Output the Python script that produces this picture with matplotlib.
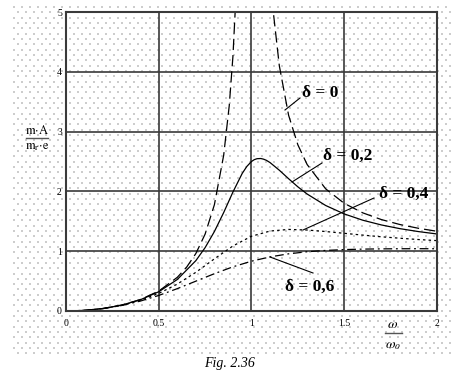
import matplotlib
matplotlib.use("Agg")
import matplotlib.pyplot as plt
import numpy as np
from matplotlib.lines import Line2D

plt.rcParams['mathtext.fontset'] = 'stix'
plt.rcParams['font.family'] = ['Liberation Serif', 'DejaVu Serif']

# ---- data ----
r_d0_left = [0.0, 0.1, 0.2, 0.3, 0.4, 0.5, 0.6, 0.65, 0.7, 0.75, 0.8, 0.85, 0.88, 0.9, 0.92]
v_d0_left = [0.0, 0.010, 0.042, 0.099, 0.190, 0.333, 0.563, 0.732, 0.961, 1.286, 1.778, 2.604, 3.433, 4.263, 5.51]
r_d0_right = [1.10, 1.12, 1.15, 1.2, 1.25, 1.3, 1.4, 1.5, 1.6, 1.7, 1.8, 1.9, 2.0]
v_d0_right = [5.76, 4.93, 4.10, 3.273, 2.778, 2.449, 2.042, 1.800, 1.641, 1.529, 1.446, 1.383, 1.333]

r_d02 = [0.0, 0.1, 0.2, 0.3, 0.4, 0.5, 0.6, 0.7, 0.75, 0.8, 0.85, 0.9, 0.95, 0.975, 1.0, 1.015,
         1.03, 1.05, 1.065, 1.08, 1.1, 1.15, 1.2, 1.25, 1.3, 1.4, 1.5, 1.6, 1.7, 1.8, 1.9, 2.0]
v_d02 = [0.0, 0.010, 0.042, 0.098, 0.187, 0.322, 0.527, 0.842, 1.060, 1.329, 1.646, 1.990, 2.301,
         2.418, 2.500, 2.531, 2.547, 2.550, 2.539, 2.520, 2.482, 2.354, 2.212, 2.076, 1.956,
         1.764, 1.623, 1.518, 1.439, 1.377, 1.328, 1.288]

r_std = [0.0, 0.1, 0.2, 0.3, 0.4, 0.5, 0.6, 0.7, 0.8, 0.9, 1.0, 1.1, 1.2, 1.3, 1.4, 1.5, 1.6,
         1.7, 1.8, 1.9, 2.0]
v_d04 = [0.0, 0.010, 0.041, 0.096, 0.178, 0.294, 0.450, 0.647, 0.872, 1.088, 1.250, 1.337,
         1.364, 1.354, 1.329, 1.299, 1.269, 1.241, 1.217, 1.195, 1.177]
v_d06 = [0.0, 0.010, 0.040, 0.092, 0.165, 0.260, 0.374, 0.499, 0.624, 0.739, 0.833, 0.905,
         0.956, 0.991, 1.013, 1.027, 1.035, 1.039, 1.041, 1.042, 1.041]

x_ticks = [0, 0.5, 1, 1.5, 2]
x_tick_labels = ["0", "0.5", "1", "1.5", "2"]
y_ticks = [0, 1, 2, 3, 4, 5]
y_tick_labels = ["0", "1", "2", "3", "4", "5"]

W, H = 460, 388
fig = plt.figure(figsize=(W / 100, H / 100), dpi=100)
fig.patch.set_facecolor('white')

def fx(px):
    return px / W

def fy(py):
    return 1 - py / H

# dotted background
bg = fig.add_axes([0, 0, 1, 1], zorder=0)
bg.set_xlim(0, W)
bg.set_ylim(H, 0)
bg.axis('off')
xs, ys = [], []
row = 0
yy = 6.0
while yy < 353:
    off = 0 if row % 2 == 0 else 4
    xx = 14 + off
    while xx < 454:
        xs.append(int(xx) + 0.5)
        ys.append(int(round(yy)) + 0.5)
        xx += 8
    yy += 5.33
    row += 1
bg.scatter(xs, ys, s=0.7, marker='s', c='#cdcdcd', linewidths=0)

ax = fig.add_axes([fx(66), fy(311), fx(437) - fx(66), fy(12) - fy(311)], zorder=2)
ax.set_facecolor('none')
ax.set_xlim(0, 2)
ax.set_ylim(0, 5)

lc = 'black'
lw = 0.9
ax.plot(r_d0_left, v_d0_left, color=lc, lw=lw, dashes=(9, 4))
ax.plot(r_d0_right, v_d0_right, color=lc, lw=lw, dashes=(9, 4))
ax.plot(r_d02, v_d02, color=lc, lw=lw)
ax.plot(r_std, v_d04, color=lc, lw=lw, dashes=(2, 2.5))
ax.plot(r_std, v_d06, color=lc, lw=lw, dashes=(7, 3, 1.5, 3))

for s in ax.spines.values():
    s.set_linewidth(1.5)
    s.set_color('#3a3a3a')
ax.set_xticks(x_ticks)
ax.set_yticks(y_ticks)
ax.grid(True, color='#3a3a3a', linewidth=1.2)
ax.tick_params(length=0)
ax.set_xticklabels(x_tick_labels, fontsize=7)
ax.set_yticklabels(y_tick_labels, fontsize=7)
ax.tick_params(axis='x', pad=6)
ax.tick_params(axis='y', pad=3)

# annotations
tkw = dict(fontsize=12.5, fontweight='bold', ha='center', va='center', transform=fig.transFigure, zorder=5)
fig.text(fx(320), fy(93), "δ = 0", **tkw)
fig.text(fx(348), fy(156), "δ = 0,2", **tkw)
fig.text(fx(404), fy(194), "δ = 0,4", **tkw)
fig.text(fx(310), fy(287), "δ = 0,6", **tkw)

def leader(x0, y0, x1, y1):
    fig.add_artist(Line2D([fx(x0), fx(x1)], [fy(y0), fy(y1)], color='black', lw=0.8,
                          transform=fig.transFigure, zorder=5))

leader(285, 110, 300, 98)
leader(292, 182, 322, 163)
leader(303, 230, 374, 198)
leader(270, 257, 313, 273)

# y-axis label as a fraction
fig.text(fx(37), fy(131), r"$\mathrm{m{\cdot}A}$", fontsize=9, ha='center', va='center')
fig.add_artist(Line2D([fx(26), fx(48)], [fy(138), fy(138)], color='#555555', lw=1.0,
                      transform=fig.transFigure))
fig.text(fx(37), fy(147), r"$\mathrm{m}_{\mathrm{r}}\mathrm{{\cdot}e}$", fontsize=9, ha='center', va='center')

# x-axis label as a fraction
fig.text(fx(393), fy(324), r"$\omega$", fontsize=10, ha='center', va='center')
fig.add_artist(Line2D([fx(385), fx(402)], [fy(333), fy(333)], color='#555555', lw=1.0,
                      transform=fig.transFigure))
fig.text(fx(393), fy(345), r"$\omega_{o}$", fontsize=10, ha='center', va='center')

# caption
fig.text(fx(230), fy(363), "Fig. 2.36", fontsize=10, style='italic', ha='center', va='center')

fig.savefig("out.png", dpi=100)
